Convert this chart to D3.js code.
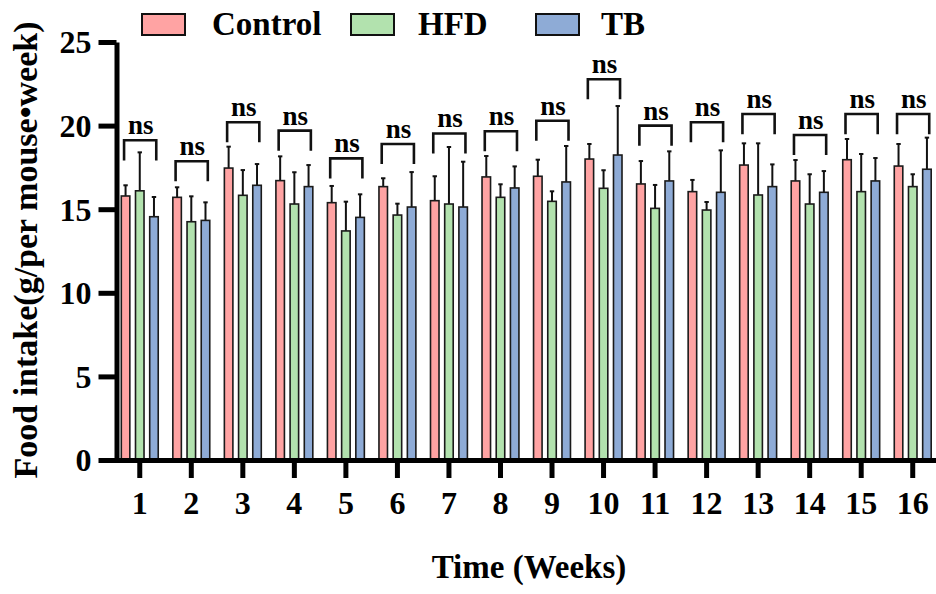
<!DOCTYPE html>
<html>
<head>
<meta charset="utf-8">
<script src="https://cdn.jsdelivr.net/npm/d3@7"></script>
<style>
body { margin: 0; background: #fff; }
text { font-family: "Liberation Serif", "Times New Roman", serif; font-weight: bold; }
</style>
</head>
<body>
<div id="chart"></div>
<script>
// values
var weeks = ['1','2','3','4','5','6','7','8','9','10','11','12','13','14','15','16'];
var groups = ['Control', 'HFD', 'TB'];
var controlMean = [15.79, 15.71, 17.46, 16.71, 15.39, 16.35, 15.51, 16.93, 16.97, 18.0, 16.51, 16.05, 17.64, 16.69, 17.96, 17.58];
var controlSd = [0.64, 0.60, 1.28, 1.45, 1.00, 0.50, 1.46, 1.25, 0.99, 0.90, 1.37, 0.70, 1.30, 1.25, 1.24, 1.32];
var hfdMean = [16.1, 14.25, 15.83, 15.31, 13.70, 14.65, 15.31, 15.71, 15.47, 16.25, 15.05, 14.95, 15.85, 15.31, 16.05, 16.35];
var hfdSd = [2.30, 1.52, 1.51, 1.90, 1.75, 0.68, 3.41, 0.78, 0.60, 1.08, 1.40, 0.48, 3.09, 1.78, 2.25, 0.74];
var tbMean = [14.55, 14.33, 16.43, 16.35, 14.51, 15.13, 15.13, 16.27, 16.63, 18.24, 16.69, 16.01, 16.35, 16.01, 16.69, 17.39];
var tbSd = [1.18, 1.08, 1.27, 1.29, 1.38, 2.09, 2.71, 1.29, 2.15, 2.93, 1.77, 2.51, 1.33, 1.27, 1.37, 1.89];
var bracketLevel = [19.12, 17.87, 20.2, 19.7, 18.04, 18.9, 19.53, 19.66, 20.29, 22.77, 20.0, 20.2, 20.69, 19.44, 20.69, 20.69];
var yTicks = [0, 5, 10, 15, 20, 25];

var colors = { Control: '#FFA3A3', HFD: '#B2E2AE', TB: '#8EABD6' };
var means = { Control: controlMean, HFD: hfdMean, TB: tbMean };
var sds = { Control: controlSd, HFD: hfdSd, TB: tbSd };

var width = 936, height = 594;

var svg = d3.select('#chart').append('svg')
  .attr('width', width)
  .attr('height', height);

var x = d3.scaleBand()
  .domain(weeks)
  .range([114, 938.5]);

var sub = d3.scaleBand()
  .domain(groups)
  .range([-21.3, 21.3]);

var y = d3.scaleLinear()
  .domain([0, 25])
  .range([460, 42]);

var barW = sub.bandwidth() * 0.6;

var rows = [];
weeks.forEach(function(w, i) {
  groups.forEach(function(g) {
    rows.push({ week: w, group: g, mean: means[g][i], sd: sds[g][i] });
  });
});

function cx(d) {
  return x(d.week) + x.bandwidth() / 2 + sub(d.group) + sub.bandwidth() / 2;
}

// error bars (upper only)
svg.append('g').selectAll('line')
  .data(rows)
  .enter()
  .append('line')
  .attr('x1', cx)
  .attr('x2', cx)
  .attr('y1', function(d) { return y(d.mean); })
  .attr('y2', function(d) { return y(d.mean + d.sd); })
  .attr('stroke', '#111')
  .attr('stroke-width', 2);

svg.append('g').selectAll('line')
  .data(rows)
  .enter()
  .append('line')
  .attr('x1', function(d) { return cx(d) - 2.2; })
  .attr('x2', function(d) { return cx(d) + 2.2; })
  .attr('y1', function(d) { return y(d.mean + d.sd); })
  .attr('y2', function(d) { return y(d.mean + d.sd); })
  .attr('stroke', '#111')
  .attr('stroke-width', 2);

svg.append('g').selectAll('rect')
  .data(rows)
  .enter()
  .append('rect')
  .attr('x', function(d) { return cx(d) - barW / 2; })
  .attr('y', function(d) { return y(d.mean); })
  .attr('width', barW)
  .attr('height', function(d) { return y(0) - y(d.mean); })
  .attr('fill', function(d) { return colors[d.group]; })
  .attr('stroke', '#1a1a1a')
  .attr('stroke-width', 1.6);

// ns brackets
var legDrop = 1.2;
var br = svg.append('g');
weeks.forEach(function(w, i) {
  var c = x(w) + x.bandwidth() / 2;
  var x0 = c - 15.7, x1 = c + 16.5;
  var top = y(bracketLevel[i]);
  br.append('path')
    .attr('d', 'M' + x0 + ',' + y(bracketLevel[i] - legDrop) + 'V' + top + 'H' + x1 + 'V' + y(bracketLevel[i] - legDrop))
    .attr('fill', 'none')
    .attr('stroke', '#111')
    .attr('stroke-width', 2.6);
  br.append('text')
    .attr('x', c + 1)
    .attr('y', top - 6)
    .attr('text-anchor', 'middle')
    .style('font-size', '27px')
    .text('ns');
});

// axes
var xAxis = d3.axisBottom(x).tickSize(18).tickSizeOuter(0).tickPadding(13);
var gx = svg.append('g')
  .attr('transform', 'translate(0,' + y(0) + ')')
  .call(xAxis);

var yAxis = d3.axisLeft(y).tickValues(yTicks).tickSize(18).tickSizeOuter(0).tickPadding(7);
var gy = svg.append('g')
  .attr('transform', 'translate(116.5,0)')
  .call(yAxis);

[gx, gy].forEach(function(g) {
  g.select('.domain').attr('stroke', '#000').attr('stroke-width', 5);
  g.selectAll('.tick line').attr('stroke', '#000').attr('stroke-width', 5);
  g.selectAll('.tick text').attr('fill', '#000').style('font-size', '32px')
    .style('font-family', '"Liberation Serif", "Times New Roman", serif')
    .style('font-weight', 'bold');
});
gy.selectAll('.tick text').attr('dy', '0.34em');

// axis titles
svg.append('text')
  .attr('x', 529)
  .attr('y', 578)
  .attr('text-anchor', 'middle')
  .style('font-size', '33px')
  .text('Time (Weeks)');

svg.append('text')
  .attr('transform', 'translate(37,250) rotate(-90)')
  .attr('text-anchor', 'middle')
  .style('font-size', '34px')
  .text('Food intake(g/per mouse\u2022week)');

// legend
var legendX = [142, 351, 536];
var legendTextX = [212, 418, 601];
var legend = svg.append('g');
groups.forEach(function(g, i) {
  legend.append('rect')
    .attr('x', legendX[i])
    .attr('y', 14)
    .attr('width', 43)
    .attr('height', 21)
    .attr('fill', colors[g])
    .attr('stroke', '#111')
    .attr('stroke-width', 2);
  legend.append('text')
    .attr('x', legendTextX[i])
    .attr('y', 35)
    .style('font-size', '33px')
    .text(g);
});
</script>
</body>
</html>
